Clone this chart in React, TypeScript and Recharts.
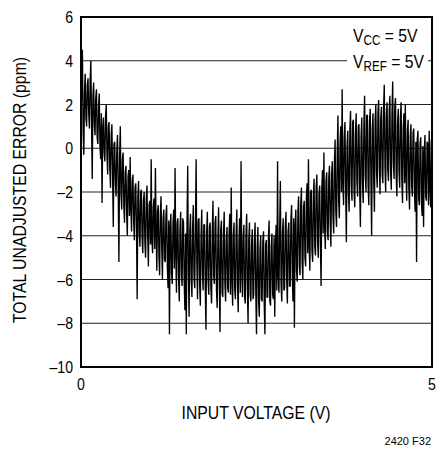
import {
  LineChart,
  Line,
  XAxis,
  YAxis,
  CartesianGrid,
  ReferenceArea,
} from "recharts";

// total unadjusted error (ppm), sampled evenly from 0V to 5V (0.01V steps)
const errors = [
  1.2, 3.0, 4.5, 0.8, -0.3, 2.6, 3.4, 1.4, 1.0, 2.9, 3.2, 1.6, 0.9, 3.1, 4.0, 1.2, -1.4, 2.4, 3.0, 1.1,
  0.6, 2.3, 2.7, 0.5, 0.2, 1.9, 2.5, 0.1, -0.5, 1.6, -2.5, 0.9, 1.4, -0.2, -0.6, 1.5, 2.0, -0.3, -1.2, 1.0,
  1.2, -0.9, -1.8, 0.6, 1.1, -1.2, -3.6, 0.2, 0.3, -1.6, -2.2, -0.1, 0.6, -1.9, -5.2, -0.4, 1.0, -2.1, -2.8, -0.5,
  -0.2, -2.6, -3.4, -1.1, -0.8, -2.9, -4.0, -1.3, -1.0, -3.1, -0.4, -2.7, -3.8, -1.5, -1.2, -3.3, -4.2, -1.8, -1.6, -3.6,
  -6.9, -2.2, -1.5, -3.9, -4.5, -2.0, -1.9, -4.1, -4.8, -2.4, -2.0, -4.3, -5.0, -2.3, -1.7, -4.0, -5.4, -2.6, -2.4, -4.4,
  -0.5, -4.2, -4.8, -2.7, -2.3, -4.6, -0.9, -3.8, -5.6, -2.9, -2.6, -4.9, -5.8, -3.0, -2.2, -4.5, -6.0, -3.2, -2.8, -5.1,
  -5.2, -3.1, -2.6, -5.4, -6.4, -3.3, -8.5, -3.6, -3.0, -5.7, -6.2, -3.5, -2.8, -5.5, -0.9, -4.8, -6.6, -3.4, -3.2, -5.9,
  -7.0, -3.7, -2.9, -5.8, -6.3, -3.2, -3.4, -6.1, -7.4, -3.9, -8.5, -3.5, -0.8, -5.6, -7.7, -3.8, -3.0, -6.0, -6.8, -3.6,
  -2.6, -5.9, -6.4, -3.7, -0.5, -5.2, -6.9, -3.3, -3.2, -6.2, -7.2, -4.0, -2.8, -5.7, -6.5, -3.5, -3.5, -6.3, -8.3, -3.9,
  -2.9, -6.0, -6.7, -3.6, -3.4, -6.4, -7.1, -3.8, -2.4, -5.8, -6.2, -3.4, -3.1, -6.5, -7.3, -4.1, -2.7, -6.1, -8.4, -3.7,
  -3.3, -6.6, -6.8, -3.9, -2.9, -6.2, -7.0, -4.2, -3.6, -6.4, -6.6, -3.8, -3.0, -6.7, -1.8, -5.9, -7.2, -4.0, -3.4, -6.5,
  -6.9, -3.9, -2.8, -6.3, -7.5, -4.3, -3.2, -6.6, -0.6, -5.4, -6.8, -4.1, -3.5, -6.8, -7.1, -4.0, -3.0, -6.4, -8.0, -4.2,
  -3.4, -6.7, -7.0, -4.4, -3.7, -6.9, -6.7, -4.2, -3.4, -6.6, -8.5, -4.5, -3.6, -7.0, -7.7, -4.6, -4.0, -6.9, -7.0, -4.3,
  -3.8, -7.1, -8.5, -4.4, -4.2, -6.8, -6.8, -4.1, -3.3, -7.0, -7.2, -4.5, -3.9, -6.7, -6.9, -4.0, -7.7, -4.4, -3.5, -6.5,
  -0.6, -5.8, -6.6, -3.7, -1.5, -6.2, -7.0, -3.9, -3.2, -6.5, -6.4, -3.6, -2.9, -6.0, -7.1, -3.8, -3.4, -6.3, -6.3, -3.3,
  -2.6, -5.9, -7.0, -3.2, -8.2, -3.6, -2.8, -5.6, -6.1, -2.9, -2.2, -5.4, -5.8, -2.6, -1.8, -5.2, -6.0, -2.7, -2.4, -5.0,
  -5.4, -2.3, -1.6, -4.8, -0.5, -4.4, -5.6, -2.0, -1.9, -4.7, -5.2, -2.2, -1.4, -4.5, -4.9, -1.8, -1.2, -4.2, -5.0, -2.1,
  -1.7, -4.3, -6.3, -1.9, -1.0, -3.9, -0.2, -3.5, -4.6, -1.5, -1.1, -3.8, -4.2, -1.3, -0.8, -3.4, -4.5, -1.2, -0.6, -3.2,
  -3.9, -0.6, 0.4, -2.9, -3.6, -0.3, 1.5, -2.4, -3.2, 0.2, 1.0, -2.0, 2.7, -1.6, -2.6, 0.5, 1.2, -1.8, -4.3, 0.1,
  0.8, -2.1, -2.9, 0.9, 1.7, -1.7, -2.4, 1.2, 1.3, -2.0, -2.7, 0.7, 1.6, -1.5, -2.2, 1.0, 1.1, -1.9, -3.6, 0.6,
  1.4, -1.6, -2.5, 1.1, 2.4, -1.2, -2.0, 1.5, 1.5, -1.7, -2.6, 1.2, 1.8, -1.4, -4.0, 0.9, 1.6, -1.5, -2.9, 1.3,
  2.0, -1.1, -1.8, 1.6, 2.2, -0.9, -2.1, 1.4, 1.9, -1.2, -1.6, 1.8, 2.9, -0.8, -2.0, 1.5, 2.1, -1.0, -1.5, 1.7,
  2.4, -1.0, -1.9, 1.6, 3.05, -0.7, -1.4, 1.9, 2.3, -1.3, -2.2, 1.2, 1.8, -1.1, -1.8, 1.4, 2.1, -1.4, -2.5, 0.9,
  1.6, -1.6, 2.0, -1.2, -2.4, 0.8, 1.3, -1.8, -2.8, 0.5, 1.1, -1.7, -2.2, 0.7, 0.9, -2.0, -2.9, 0.3, -5.2, 0.4,
  0.8, -2.3, -2.6, 0.2, 0.5, -2.5, -3.1, 0.1, -3.6, -0.2, 0.6, -2.2, -2.4, 0.3, 0.2, -2.6, 0.8, -1.8, -2.7, 0.4,
  -1.0,
];

const yTicks = [-10, -8, -6, -4, -2, 0, 2, 4, 6];
const xTicks = [0, 5];

const data = errors.map((e, i) => ({
  v: (i * 5) / (errors.length - 1),
  e,
}));

const font = '"Liberation Sans", Arial, Helvetica, sans-serif';
const squeeze = 0.83;

const fmt = (t: number) => String(t).replace("-", "\u2013");

function YTick(props: any) {
  const { x, y, payload } = props;
  return (
    <text
      transform={`translate(${x},${y}) scale(${squeeze},1)`}
      textAnchor="end"
      dy="0.36em"
      fontSize={17}
      fontFamily={font}
      fill="#000"
    >
      {fmt(payload.value)}
    </text>
  );
}

function XTick(props: any) {
  const { x, y, payload } = props;
  return (
    <text
      transform={`translate(${x},${y}) scale(${squeeze},1)`}
      textAnchor="middle"
      dy="0.9em"
      fontSize={17}
      fontFamily={font}
      fill="#000"
    >
      {fmt(payload.value)}
    </text>
  );
}

const narrow = (origin: string): React.CSSProperties => ({
  display: "inline-block",
  transform: `scaleX(${squeeze})`,
  transformOrigin: origin,
  whiteSpace: "nowrap",
});

export default function App() {
  return (
    <div
      style={{
        position: "absolute",
        left: 0,
        top: 0,
        width: 437,
        height: 451,
        background: "#fff",
        fontFamily: font,
        color: "#000",
      }}
    >
      <LineChart
        width={437}
        height={451}
        data={data}
        margin={{ top: 17, right: 5, bottom: 54, left: 31 }}
      >
        <CartesianGrid
          horizontal
          vertical={false}
          stroke="#222"
          strokeWidth={1}
        />
        <XAxis
          dataKey="v"
          type="number"
          domain={[0, 5]}
          ticks={xTicks}
          height={30}
          tickLine={false}
          axisLine={false}
          tick={<XTick />}
        />
        <YAxis
          type="number"
          domain={[-10, 6]}
          ticks={yTicks}
          width={50}
          tickLine={false}
          axisLine={false}
          tick={<YTick />}
        />
        <ReferenceArea
          x1={0}
          x2={5}
          y1={-10}
          y2={6}
          fill="none"
          stroke="#000"
          strokeWidth={2}
        />
        <Line
          dataKey="e"
          type="linear"
          stroke="#000"
          strokeWidth={1.35}
          strokeLinejoin="miter"
          dot={false}
          isAnimationActive={false}
        />
      </LineChart>

      <div
        style={{
          position: "absolute",
          left: 347,
          top: 25,
          width: 81,
          height: 44,
          background: "#fff",
          fontSize: 19,
          lineHeight: "21px",
        }}
      >
        <div style={{ paddingLeft: 6 }}>
          <span style={narrow("left center")}>
            V<sub style={{ fontSize: 14, verticalAlign: "-3px" }}>CC</sub> = 5V
          </span>
        </div>
        <div style={{ paddingLeft: 6 }}>
          <span style={narrow("left center")}>
            V<sub style={{ fontSize: 14, verticalAlign: "-3px" }}>REF</sub> = 5V
          </span>
        </div>
      </div>

      <div
        style={{
          position: "absolute",
          left: 20,
          top: 190,
          transform: `translate(-50%, -50%) rotate(-90deg) scaleX(${squeeze})`,
          whiteSpace: "nowrap",
          fontSize: 19,
        }}
      >
        TOTAL UNADJUSTED ERROR (ppm)
      </div>

      <div
        style={{
          position: "absolute",
          left: 256,
          top: 413,
          transform: `translate(-50%, -50%) scaleX(${squeeze})`,
          whiteSpace: "nowrap",
          fontSize: 19,
        }}
      >
        INPUT VOLTAGE (V)
      </div>

      <div
        style={{
          position: "absolute",
          right: 6,
          top: 435,
          fontSize: 11,
        }}
      >
        2420 F32
      </div>
    </div>
  );
}
